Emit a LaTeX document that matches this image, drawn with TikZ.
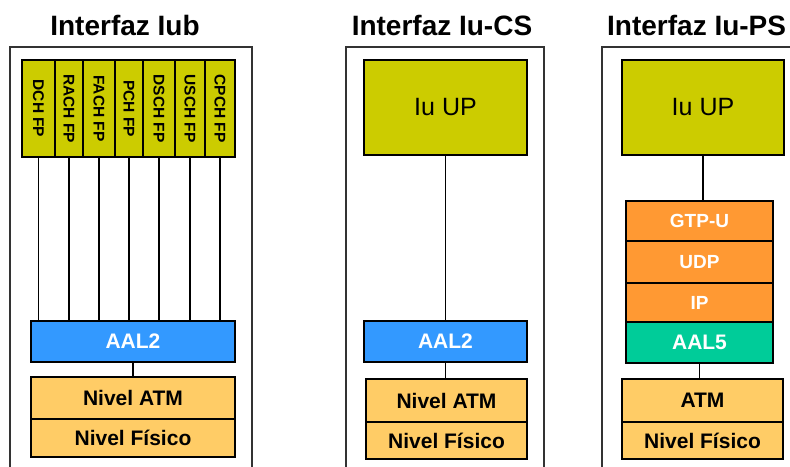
\documentclass[tikz,border=0pt]{standalone}
\usepackage{fontspec}
\setmainfont{Liberation Sans}
\definecolor{olive}{HTML}{CCCC00}
\definecolor{aalblue}{HTML}{3399FF}
\definecolor{atmor}{HTML}{FFCC66}
\definecolor{ipor}{HTML}{FF9933}
\definecolor{aalgreen}{HTML}{00CC99}
\begin{document}
\begin{tikzpicture}[x=1pt,y=-1pt,
  layer/.style={draw=black,line width=1.3pt,rectangle,inner sep=0pt,outer sep=0pt},
  fpbox/.style={layer,fill=olive,minimum height=97pt,font=\bfseries\fontsize{15.5}{15.5}\selectfont},
  upbox/.style={layer,fill=olive,minimum height=95pt,font=\fontsize{25}{25}\selectfont},
  whitetxt/.style={text=white,font=\bfseries\fontsize{21}{21}\selectfont},
  blacktxt/.style={text=black,font=\bfseries\fontsize{21}{21}\selectfont},
  paneltitle/.style={font=\bfseries\fontsize{28}{28}\selectfont,inner sep=0pt},
  panel/.style={draw=black!80,line width=1.3pt},
  link/.style={draw=black,line width=1.3pt}]
\useasboundingbox (0,0) rectangle (790,466);
\clip (0,0) rectangle (790,466);
% panels
\draw[panel] (10,470) -- (10,47) -- (252,47) -- (252,470);
\draw[panel] (346,470) -- (346,47) -- (544,47) -- (544,470);
\draw[panel] (602,470) -- (602,47) -- (800,47);
\node[paneltitle,anchor=base] (t1) at (125,35) {Interfaz Iub};
\node[paneltitle,anchor=base] (t2) at (442,35) {Interfaz Iu-CS};
\node[paneltitle,anchor=base west] (t3) at (607,35) {Interfaz Iu-PS};
% left panel
\node[fpbox,minimum width=33pt] (dch) at (38.5,108.5) {\rotatebox{-90}{DCH FP}};
\node[fpbox,minimum width=28pt] (rach) at (69,108.5) {\rotatebox{-90}{RACH FP}};
\node[fpbox,minimum width=32pt] (fach) at (99,108.5) {\rotatebox{-90}{FACH FP}};
\node[fpbox,minimum width=28pt] (pch) at (129,108.5) {\rotatebox{-90}{PCH FP}};
\node[fpbox,minimum width=32pt] (dsch) at (159,108.5) {\rotatebox{-90}{DSCH FP}};
\node[fpbox,minimum width=30pt] (usch) at (190,108.5) {\rotatebox{-90}{USCH FP}};
\node[fpbox,minimum width=30pt] (cpch) at (220,108.5) {\rotatebox{-90}{CPCH FP}};
\node[layer,fill=aalblue,whitetxt,minimum width=204pt,minimum height=41pt] (aal2a) at (133,341.5) {AAL2};
\node[layer,fill=atmor,blacktxt,minimum width=204pt,minimum height=42pt] (atma) at (133,398) {Nivel ATM};
\node[layer,fill=atmor,blacktxt,minimum width=204pt,minimum height=38pt] (fisa) at (133,438) {Nivel Físico};
\foreach \n in {dch,rach,fach,pch,dsch,usch,cpch}
  \draw[link] (\n.south) -- (\n.south |- aal2a.north);
\draw[link] (aal2a.south) -- (atma.north);
% middle panel
\node[upbox,minimum width=163pt] (upb) at (445.5,107.5) {Iu UP};
\node[layer,fill=aalblue,whitetxt,minimum width=163pt,minimum height=41pt] (aal2b) at (445.5,341.5) {AAL2};
\node[layer,fill=atmor,blacktxt,minimum width=161pt,minimum height=43pt] (atmb) at (446.5,400.5) {Nivel ATM};
\node[layer,fill=atmor,blacktxt,minimum width=161pt,minimum height=37pt] (fisb) at (446.5,440.5) {Nivel Físico};
\draw[link] (upb.south) -- (aal2b.north);
\draw[link] (aal2b.south) -- (aal2b.south |- atmb.north);
% right panel
\node[upbox,minimum width=162pt] (upc) at (703,107.5) {Iu UP};
\node[layer,fill=ipor,whitetxt,font=\bfseries\fontsize{19}{19}\selectfont,minimum width=147pt,minimum height=40pt] (gtp) at (699.5,221) {GTP-U};
\node[layer,fill=ipor,whitetxt,font=\bfseries\fontsize{19}{19}\selectfont,minimum width=147pt,minimum height=42pt] (udp) at (699.5,262) {UDP};
\node[layer,fill=ipor,whitetxt,font=\bfseries\fontsize{19}{19}\selectfont,minimum width=147pt,minimum height=39pt] (ip) at (699.5,302.5) {IP};
\node[layer,fill=aalgreen,whitetxt,minimum width=147pt,minimum height=41pt] (aal5) at (699.5,342.5) {AAL5};
\node[layer,fill=atmor,blacktxt,minimum width=161pt,minimum height=43pt] (atmc) at (702.5,400.5) {ATM};
\node[layer,fill=atmor,blacktxt,minimum width=161pt,minimum height=37pt] (fisc) at (702.5,440.5) {Nivel Físico};
\draw[link] (upc.south) -- (upc.south |- gtp.north);
\draw[link] (aal5.south) -- (aal5.south |- atmc.north);
\end{tikzpicture}
\end{document}
